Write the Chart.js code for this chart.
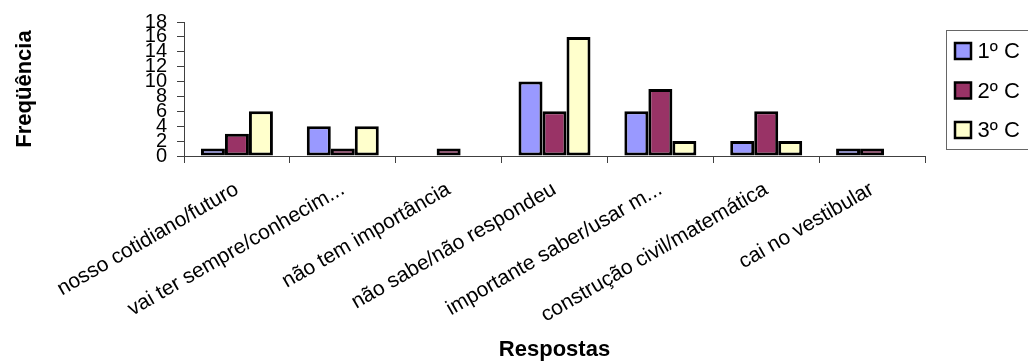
<!DOCTYPE html>
<html>
<head>
<meta charset="utf-8">
<script src="https://cdn.jsdelivr.net/npm/chart.js@4/dist/chart.umd.min.js"></script>
<style>
  html, body { margin: 0; padding: 0; background: #fff; overflow: hidden; }
  canvas { display: block; }
</style>
</head>
<body>
<canvas id="chart" width="1028" height="363"></canvas>
<script>
// Respostas agrupadas por série
const categories = [
  'nosso cotidiano/futuro',
  'vai ter sempre/conhecim...',
  'não tem importância',
  'não sabe/não respondeu',
  'importante saber/usar m...',
  'construção civil/matemática',
  'cai no vestibular'
];
const seriesLabels = ['1º C', '2º C', '3º C'];
const serie1C = [1, 4, 0, 10, 6, 2, 1];
const serie2C = [3, 1, 1, 6, 9, 6, 1];
const serie3C = [6, 4, 0, 16, 2, 2, 0];
const yTickValues = [0, 2, 4, 6, 8, 10, 12, 14, 16, 18];

const seriesColors = ['#9999FF', '#993366', '#FFFFCC'];
const FONT = '"Liberation Sans", Arial, sans-serif';

// Legenda com moldura, presa à direita da área de plotagem
const boxedLegend = {
  id: 'boxedLegend',
  afterDraw(chart) {
    const ctx = chart.ctx;
    const area = chart.chartArea;
    const left = area.right + 21.5;
    const top = area.top + 8.5;
    ctx.save();
    ctx.strokeStyle = '#666';
    ctx.lineWidth = 1;
    ctx.strokeRect(left, top, 160, 119);
    ctx.font = '22px ' + FONT;
    ctx.textBaseline = 'middle';
    chart.data.datasets.forEach((ds, i) => {
      const cy = top + 20.5 + i * 39.5;
      ctx.fillStyle = ds.backgroundColor;
      ctx.fillRect(left + 8.5, cy - 8, 16, 16);
      ctx.lineWidth = 2.5;
      ctx.strokeStyle = '#000';
      ctx.strokeRect(left + 8.5, cy - 8, 16, 16);
      ctx.fillStyle = '#000';
      ctx.fillText(ds.label, left + 31, cy + 1);
    });
    ctx.restore();
  }
};

const datasets = [serie1C, serie2C, serie3C].map((values, i) => ({
  label: seriesLabels[i],
  data: values,
  backgroundColor: seriesColors[i],
  borderColor: '#000',
  borderWidth: 3,
  borderSkipped: false,
  categoryPercentage: 0.68,
  barPercentage: 1.0
}));

new Chart(document.getElementById('chart'), {
  type: 'bar',
  data: { labels: categories, datasets },
  plugins: [boxedLegend],
  options: {
    responsive: false,
    animation: false,
    devicePixelRatio: 1,
    layout: { padding: { left: 0, top: 21, right: 103, bottom: 0 } },
    plugins: {
      legend: { display: false },
      tooltip: { enabled: false }
    },
    scales: {
      x: {
        grid: {
          display: true,
          drawOnChartArea: false,
          drawTicks: true,
          tickLength: 7,
          color: '#404040',
          offset: true
        },
        border: { display: true, color: '#404040', width: 1 },
        ticks: {
          autoSkip: false,
          minRotation: 30,
          maxRotation: 30,
          padding: 14,
          color: '#000',
          font: { family: FONT, size: 21 }
        },
        title: {
          display: true,
          text: 'Respostas',
          color: '#000',
          font: { family: FONT, size: 22, weight: 'bold' },
          padding: { top: 0, bottom: 0 }
        },
        afterFit(scale) { scale.height = 207; }
      },
      y: {
        min: 0,
        max: 18,
        grid: {
          display: true,
          drawOnChartArea: false,
          drawTicks: true,
          tickLength: 7,
          color: '#404040'
        },
        border: { display: true, color: '#404040', width: 1 },
        afterBuildTicks(scale) {
          scale.ticks = yTickValues.map(v => ({ value: v }));
        },
        ticks: {
          autoSkip: false,
          padding: 10,
          color: '#000',
          font: { family: FONT, size: 20 }
        },
        title: {
          display: true,
          text: 'Freqüência',
          color: '#000',
          font: { family: FONT, size: 22, weight: 'bold' },
          padding: { top: 12, bottom: 0 }
        },
        afterFit(scale) { scale.width = 184; }
      }
    }
  }
});
</script>
</body>
</html>
